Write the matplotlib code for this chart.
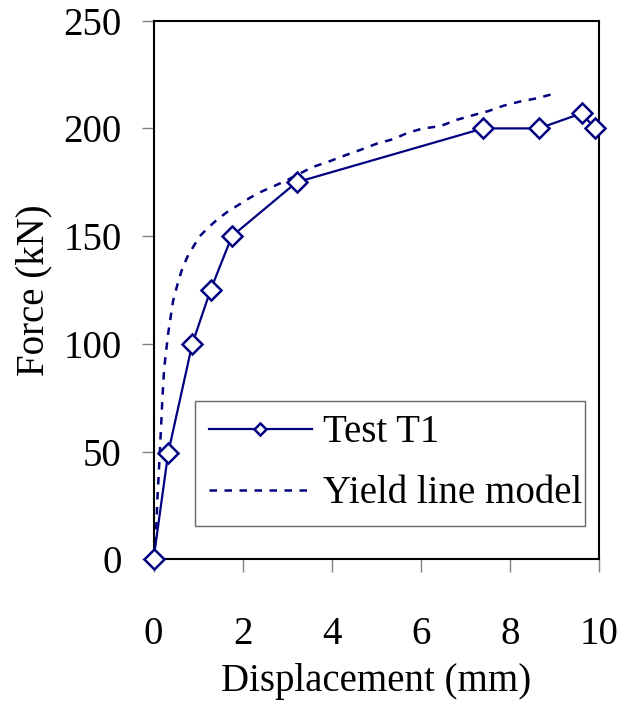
import matplotlib
matplotlib.use('Agg')
import matplotlib.pyplot as plt

# Ensaio T1 (deslocamento mm, força kN)
test_x = [0, 0.33, 0.87, 1.28, 1.76, 3.21, 7.4, 8.65, 9.61, 9.91]
test_y = [0, 49.5, 100, 125, 150, 175, 200, 200, 207, 200]

# Modelo de linhas de escoamento
model_x = [0, 0.03, 0.06, 0.09, 0.13, 0.17, 0.2, 0.24, 0.33, 0.44, 0.53, 0.63,
           0.75, 0.89, 1.04, 1.23, 1.42, 1.64, 1.87, 2.1, 2.35, 2.68, 3.0,
           3.56, 3.92, 4.3, 4.64, 5.02, 5.38, 5.71, 6.05, 6.43, 6.81, 7.15,
           7.51, 7.85, 8.23, 8.61, 8.97]
model_y = [0, 5, 15, 29, 45, 62, 75, 89, 105, 120, 127, 134,
           140, 145, 150, 154, 157.5, 161, 164, 167, 170, 173, 176,
           182, 184.5, 187.5, 190, 193, 195, 198, 200, 201, 204, 206,
           208, 210.5, 212.5, 214, 216]

x_ticks = [0, 2, 4, 6, 8, 10]
y_ticks = [0, 50, 100, 150, 200, 250]

plt.rcParams['font.family'] = ['Liberation Serif', 'DejaVu Serif']
fs = 28
navy = '#000080'

fig = plt.figure(figsize=(6.36, 7.01), dpi=100)
ax = fig.add_axes([0.2414, 0.2021, 0.7005, 0.7684])

ax.plot(test_x, test_y, color=navy, lw=1.6, marker='D', ms=10,
        mfc='white', mec=navy, mew=1.8, label='Test T1', zorder=3,
        clip_on=False)
ax.plot(model_x, model_y, color=navy, lw=1.8, linestyle=(0, (3, 3)),
        label='Yield line model', zorder=2)

ax.set_xlim(0, 10)
ax.set_ylim(0, 250)
ax.set_xticks(x_ticks)
ax.set_yticks(y_ticks)
ax.tick_params(axis='both', direction='out', length=9, width=1,
               color='#808080', labelsize=fs)
ax.tick_params(axis='x', pad=32)
ax.tick_params(axis='y', pad=14)
for s in ax.spines.values():
    s.set_linewidth(1.5)
    s.set_color('black')

ax.set_xlabel('Displacement (mm)', fontsize=fs, labelpad=7)
ax.set_ylabel('Force (kN)', fontsize=fs, labelpad=8)

leg = ax.legend(loc='lower left', bbox_to_anchor=(0.0932, 0.062, 0.8754, 0.232),
                mode='expand', borderaxespad=0, fontsize=fs, frameon=True,
                fancybox=False, handlelength=2.65, handletextpad=0.3,
                borderpad=0.35, labelspacing=0.62, markerscale=0.6)
leg.get_frame().set_edgecolor('#404040')
leg.get_frame().set_linewidth(1)

fig.savefig('out.png', dpi=100)
